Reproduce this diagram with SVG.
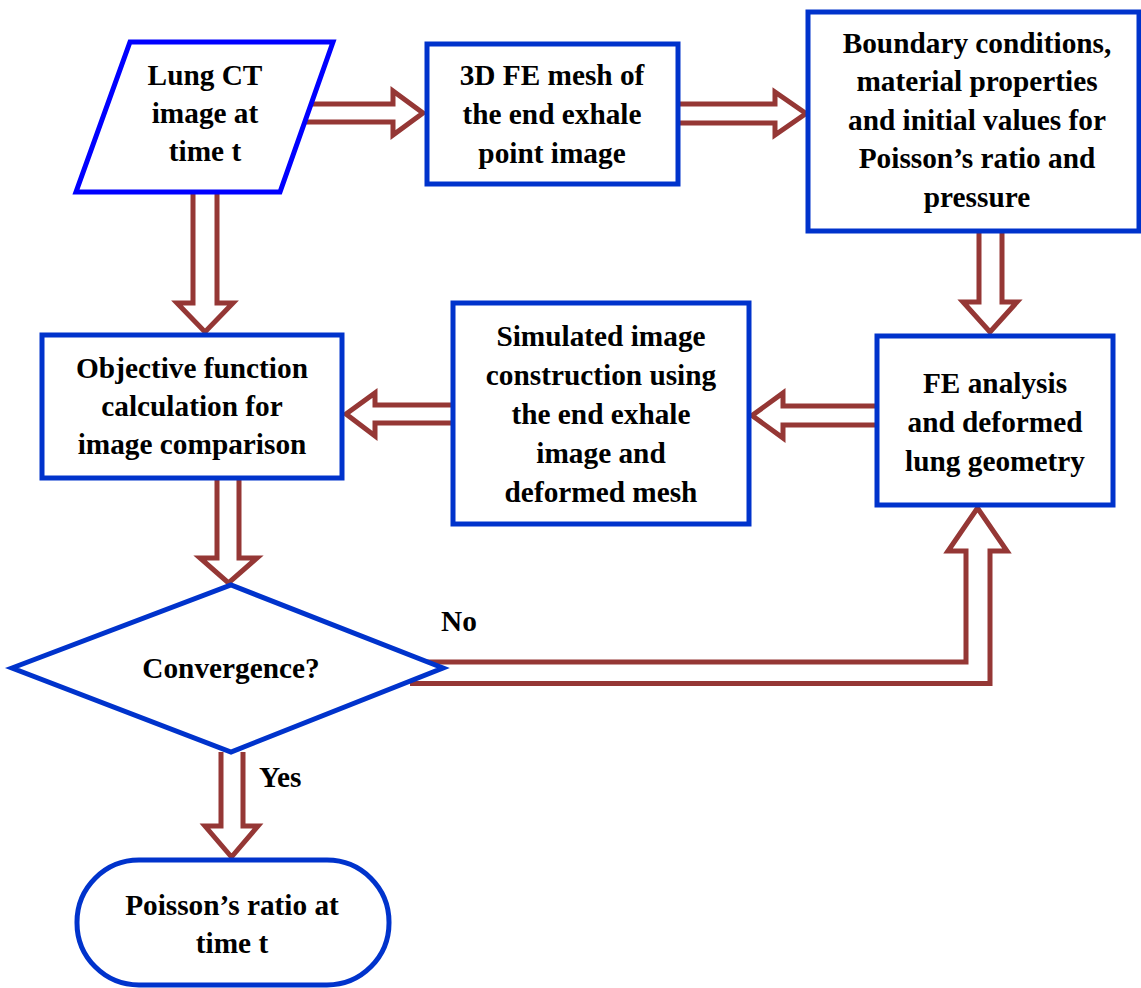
<svg xmlns="http://www.w3.org/2000/svg" width="1141" height="988" viewBox="0 0 1141 988">
<style>
.node{fill:#ffffff;stroke:#0033cc;stroke-width:5}
.para{fill:#ffffff;stroke:#0000ff;stroke-width:5}
.arrow{fill:none;stroke:#953735;stroke-width:5;stroke-linejoin:miter;stroke-miterlimit:10}
text{font-family:"Liberation Serif","Times New Roman",serif;font-weight:bold;font-size:29.3px;fill:#000000;text-anchor:middle}
.lbl{text-anchor:start}
</style>
<rect x="0" y="0" width="1141" height="988" fill="#ffffff"/>
<g id="connectors">
<path class="arrow" d="M311,104 H393 V91 L423,113 L393,135 V122 H305"/>
<path class="arrow" d="M678,104 H775 V92 L806,113.5 L775,135 V123 H678"/>
<path class="arrow" d="M193,194 V303 H177 L205,332 L233,303 H217 V194"/>
<path class="arrow" d="M979,231 V302 H963 L990,332 L1017,302 H1002 V231"/>
<path class="arrow" d="M877,406 H783 V393 L752,415.5 L783,438 V425 H877"/>
<path class="arrow" d="M453,405 H375 V393 L346,414 L375,436 V423 H453"/>
<path class="arrow" d="M217,478 V558 H200 L228.5,583 L257,558 H239 V478"/>
<path class="arrow" d="M420,662 H966 V551 H948 L977.5,508 L1007,551 H990 V683.5 H410"/>
<path class="arrow" d="M221,752 V826 H205 L231.5,857 L258,826 H243 V752"/>
<text class="lbl" x="441" y="631">No</text>
<text class="lbl" x="259" y="787">Yes</text>
</g>
<g id="lung-ct">
<polygon class="para" points="130,42 333,42 280,192 76,192"/>
<text x="205" y="85">Lung CT</text>
<text x="205" y="123">image at</text>
<text x="205" y="161">time t</text>
</g>
<g id="fe-mesh">
<rect class="node" x="427" y="44" width="251" height="140"/>
<text x="552" y="85">3D FE mesh of</text>
<text x="552" y="124">the end exhale</text>
<text x="552" y="163">point image</text>
</g>
<g id="boundary">
<rect class="node" x="808" y="12" width="331" height="219"/>
<text x="977" y="53">Boundary conditions,</text>
<text x="977" y="91">material properties</text>
<text x="977" y="130">and initial values for</text>
<text x="977" y="168">Poisson’s ratio and</text>
<text x="977" y="207">pressure</text>
</g>
<g id="objective">
<rect class="node" x="42" y="335" width="300" height="143"/>
<text x="192" y="378">Objective function</text>
<text x="192" y="416">calculation for</text>
<text x="192" y="454">image comparison</text>
</g>
<g id="simulated">
<rect class="node" x="453" y="303" width="296" height="221"/>
<text x="601" y="346">Simulated image</text>
<text x="601" y="385">construction using</text>
<text x="601" y="424">the end exhale</text>
<text x="601" y="463">image and</text>
<text x="601" y="502">deformed mesh</text>
</g>
<g id="fe-analysis">
<rect class="node" x="877" y="336" width="236" height="169"/>
<text x="995" y="393">FE analysis</text>
<text x="995" y="432">and deformed</text>
<text x="995" y="471">lung geometry</text>
</g>
<g id="convergence">
<polygon class="node" points="12,668 231,585 443,668 231,752"/>
<text x="231" y="678">Convergence?</text>
</g>
<g id="result">
<rect class="node" x="77" y="860" width="312" height="125" rx="62" ry="62"/>
<text x="232" y="915">Poisson’s ratio at</text>
<text x="232" y="953">time t</text>
</g>
</svg>
